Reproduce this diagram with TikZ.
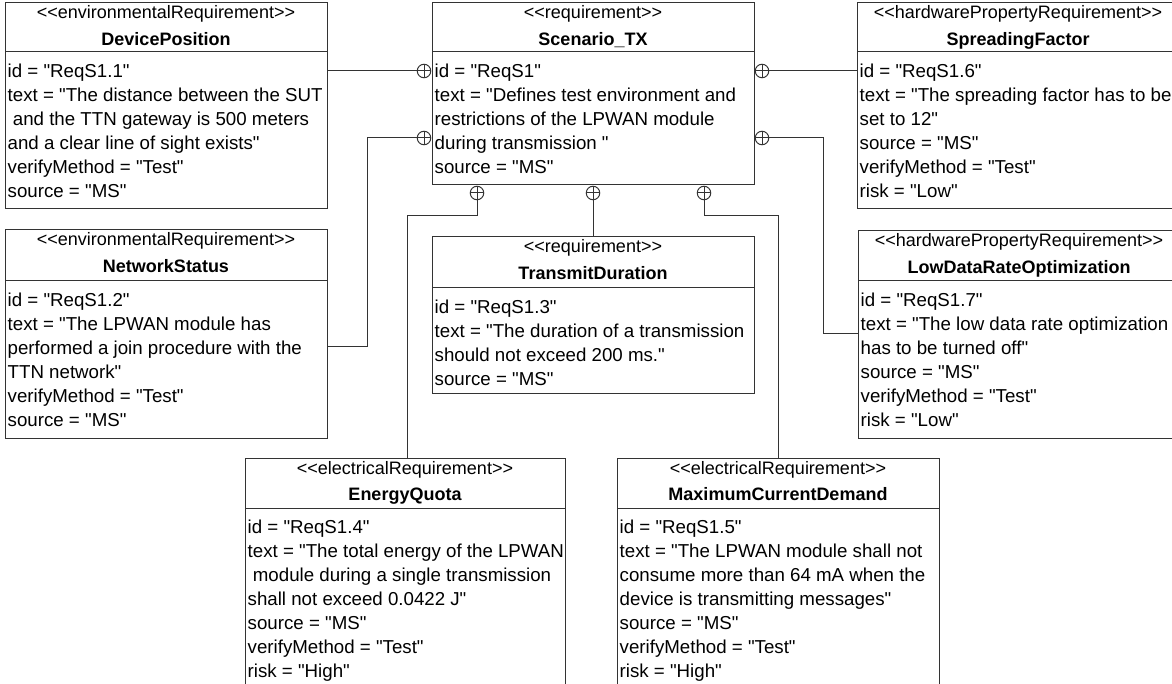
\documentclass[tikz,border=0pt]{standalone}
\usepackage{fontspec}
\setmainfont{Liberation Sans}[Ligatures=TeXOff]
\usetikzlibrary{calc}
\definecolor{linegray}{HTML}{333333}

% One requirement block: frame, compartment line, stereotype, name, attributes
% #1 name, #2 top-left corner, #3 width, #4 height, #5 compartment offset,
% #6 stereotype, #7 block name, #8 attribute lines
\newcommand{\reqbox}[8]{%
  \node[reqframe, minimum width=#3, minimum height=#4] (#1) at #2 {};
  \draw[reqline] ([yshift=-#5]#1.north west) -- ([yshift=-#5]#1.north east);
  \node[stereo] (#1-st) at ([yshift=-16]#1.north) {<<#6>>};
  \node[reqtitle] (#1-nm) at ([yshift=-42.5]#1.north) {#7};
  \node[reqbody] (#1-at) at ([xshift=2.5, yshift={-#5-8.2}]#1.north west) {\strut#8};
}

\begin{document}
\begin{tikzpicture}[x=1pt, y=-1pt,
  reqframe/.style={rectangle, draw=linegray, line width=1pt, inner sep=0pt,
    outer sep=0pt, anchor=north west},
  reqline/.style={draw=linegray, line width=1pt},
  stereo/.style={anchor=base, inner sep=0pt, font=\fontsize{18}{20}\selectfont},
  reqtitle/.style={anchor=base, inner sep=0pt, font=\fontsize{18}{20}\selectfont\bfseries},
  reqbody/.style={anchor=north west, inner sep=0pt, align=left,
    font=\fontsize{18.7}{24}\selectfont},
  link/.style={draw=linegray, line width=1pt},
  cplus/.style={circle, draw=linegray, line width=1pt, fill=white,
    minimum size=13.5pt, inner sep=0pt, outer sep=0pt,
    path picture={\draw[linegray, line width=1pt]
      (path picture bounding box.north) -- (path picture bounding box.south)
      (path picture bounding box.west) -- (path picture bounding box.east);}}]

\useasboundingbox (0,0) rectangle (1172,684);
\fill[white] (0,0) rectangle (1172,684);
\clip (0,0) rectangle (1172,684);

% central requirement
\reqbox{sc}{(432,3)}{322}{182}{49}{requirement}{Scenario\_TX}{%
id = "ReqS1"\\
text = "Defines test environment and\\
restrictions of the LPWAN module\\
during transmission "\\
source = "MS"}

% left column
\reqbox{dp}{(5,3)}{322}{206}{49}{environmentalRequirement}{DevicePosition}{%
id = "ReqS1.1"\\
text = "The distance between the SUT\\
\ and the TTN gateway is 500 meters\\
and a clear line of sight exists"\\
verifyMethod = "Test"\\
source = "MS"}

\reqbox{ns}{(5,230)}{322}{208}{51}{environmentalRequirement}{NetworkStatus}{%
id = "ReqS1.2"\\
text = "The LPWAN module has\\
performed a join procedure with the\\
TTN network"\\
verifyMethod = "Test"\\
source = "MS"}

% middle
\reqbox{td}{(432,237)}{322}{156}{51}{requirement}{TransmitDuration}{%
id = "ReqS1.3"\\
text = "The duration of a transmission\\
should not exceed 200 ms."\\
source = "MS"}

% right column
\reqbox{sf}{(857,3)}{322}{206}{49}{hardwarePropertyRequirement}{SpreadingFactor}{%
id = "ReqS1.6"\\
text = "The spreading factor has to be\\
set to 12"\\
source = "MS"\\
verifyMethod = "Test"\\
risk = "Low"}

\reqbox{ld}{(858,231)}{322}{207}{50}{hardwarePropertyRequirement}{LowDataRateOptimization}{%
id = "ReqS1.7"\\
text = "The low data rate optimization\\
has to be turned off"\\
source = "MS"\\
verifyMethod = "Test"\\
risk = "Low"}

% bottom row
\reqbox{eq}{(245,458)}{320}{240}{50}{electricalRequirement}{EnergyQuota}{%
id = "ReqS1.4"\\
text = "The total energy of the LPWAN\\
\ module during a single transmission\\
shall not exceed 0.0422 J"\\
source = "MS"\\
verifyMethod = "Test"\\
risk = "High"}

\reqbox{mc}{(617,458)}{322}{240}{50}{electricalRequirement}{MaximumCurrentDemand}{%
id = "ReqS1.5"\\
text = "The LPWAN module shall not\\
consume more than 64 mA when the\\
device is transmitting messages"\\
source = "MS"\\
verifyMethod = "Test"\\
risk = "High"}

% containment markers on the central requirement
\node[cplus] (k1) at ($(sc.north west)+(-8,68)$) {};
\node[cplus] (k2) at ($(sc.north west)+(-8,135)$) {};
\node[cplus] (k3) at ($(sc.north east)+(8,68)$) {};
\node[cplus] (k4) at ($(sc.north east)+(8,135)$) {};
\node[cplus] (k5) at ($(sc.south west)+(45,8)$) {};
\node[cplus] (k6) at ($(sc.south)+(0,8)$) {};
\node[cplus] (k7) at ($(sc.south west)+(272,8)$) {};

% bend points of the routed connectors
\coordinate (b2) at (367,347);
\coordinate (b4) at (823,334);
\coordinate (b5) at (407,216);
\coordinate (b7) at (778,216);

% containment connectors
\draw[link] (k1.west) -- (dp.east |- k1.west);
\draw[link] (k2.west) -| (b2) -- (ns.east |- b2);
\draw[link] (k3.east) -- (sf.west |- k3.east);
\draw[link] (k4.east) -| (b4) -- (ld.west |- b4);
\draw[link] (k5.south) |- (b5) -- (eq.north -| b5);
\draw[link] (k6.south) -- (td.north -| k6.south);
\draw[link] (k7.south) |- (b7) -- (mc.north -| b7);
\end{tikzpicture}
\end{document}
